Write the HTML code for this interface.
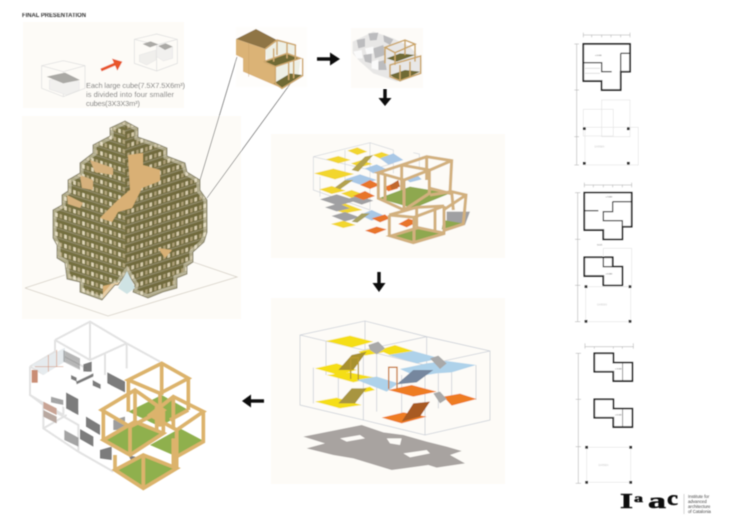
<!DOCTYPE html>
<html><head><meta charset="utf-8"><style>
html,body{margin:0;padding:0;background:#fff}
svg{display:block}
text{font-family:"Liberation Sans",sans-serif}
</style></head><body>
<svg width="730" height="516" viewBox="0 0 730 516" xmlns="http://www.w3.org/2000/svg">
<defs>
<filter id="soft" x="0" y="0" width="100%" height="100%" filterUnits="userSpaceOnUse"><feGaussianBlur stdDeviation="0.4"/></filter>
<pattern id="lL" width="9" height="9.5" patternUnits="userSpaceOnUse" patternTransform="skewY(18)">
<rect width="9" height="9.5" fill="#75703f"/><rect x="1.2" y="4.5" width="2.6" height="4" fill="#dfd6b8"/><rect x="5.6" y="4.5" width="2.4" height="4" fill="#b3a67e"/><rect y="0" width="9" height="1.2" fill="#928b6c"/>
</pattern>
<pattern id="lR" width="9" height="9.5" patternUnits="userSpaceOnUse" patternTransform="skewY(-18)">
<rect width="9" height="9.5" fill="#716b3c"/><rect x="1.2" y="4.5" width="2.4" height="4" fill="#ad9f78"/><rect x="5.4" y="4.5" width="2.6" height="4" fill="#d6cbab"/><rect y="0" width="9" height="1.2" fill="#928b6c"/>
</pattern>
<clipPath id="blob"><polygon points="110,128 125,121 138,128 138,137 155,143 167,148 167,156 185,163 187,172 200,180 200,190 207,200 207,232 204,242 193,252 193,262 187,266 187,274 177,278 177,288 163,292 148,298 133,292 135,285 127,272 118,285 115,285 102,300 80,292 80,282 67,279 65,263 57,258 57,245 53,238 53,210 62,205 62,195 68,191 68,180 80,173 80,163 93,153 93,145 110,136"/></clipPath>
</defs>
<rect width="730" height="516" fill="#fff"/>
<g filter="url(#soft)">

<!-- panels -->
<rect x="23" y="22" width="161" height="86" fill="#fdfbf7"/>
<rect x="22" y="116" width="219" height="203" fill="#fdfbf7"/>
<rect x="236" y="27" width="71" height="60" fill="#fefdfb"/>
<rect x="351" y="28" width="72" height="60" fill="#fdfbf8"/>
<rect x="271" y="134" width="234" height="124" fill="#fdfbf7"/>
<rect x="271" y="298" width="234" height="186" fill="#fdfbf7"/>

<text x="22" y="17" font-size="6" font-weight="bold" fill="#333" textLength="64" lengthAdjust="spacingAndGlyphs">FINAL PRESENTATION</text>

<!-- top-left diagram -->
<g transform="scale(.33333)">
<g fill="none" stroke="#dcdcdc" stroke-width="2">
<polygon points="125,197 190,182 255,197 255,265 190,290 125,265"/><path d="M125,197L190,215L255,197M190,215V290"/>
<polygon points="403,118 470,102 532,118 532,190 470,213 403,190"/><path d="M403,118L470,135L532,118M470,135V213"/>
</g>
<polygon points="148,240 195,232 238,245 238,270 200,285 148,268" fill="#f1f0ee" stroke="#ddd"/>
<polygon points="140,230 170,223 195,218 240,240 200,248 190,250 165,240" fill="#aaa9a5"/>
<polygon points="418,165 468,150 468,180 440,195 418,185" fill="#f0efec" stroke="#ddd"/>
<polygon points="428,132 452,124 475,133 450,142" fill="#aaa9a5"/>
<polygon points="470,140 495,130 518,140 518,175 490,183 470,170" fill="#f1f0ee" stroke="#ddd"/>
<polygon points="475,138 497,130 518,140 495,150" fill="#aaa9a5"/>
<path d="M303,210L345,192" stroke="#e8562a" stroke-width="9" fill="none"/>
<polygon points="336,176 367,185 352,212" fill="#e8562a"/>
</g>
<g font-size="7.4" fill="#777">
<text x="86" y="88" textLength="99">Each large cube(7.5X7.5X6m³)</text>
<text x="86" y="97" textLength="88">is divided into four smaller</text>
<text x="86" y="106" textLength="54">cubes(3X3X3m³)</text>
</g>

<!-- ground of big mass -->
<path d="M25,288L65,275M25,288L108,316L237,277L193,262" fill="none" stroke="#d6d0c6" stroke-width=".8"/>
<!-- leader lines -->
<path d="M237,57L200,180M293,80L207,198" stroke="#555" stroke-width=".6" fill="none"/>

<!-- big lattice mass -->
<g clip-path="url(#blob)">
<rect x="40" y="110" width="90" height="200" fill="url(#lL)"/>
<polygon points="125,110 215,110 215,310 125,310" fill="url(#lR)"/>
<polygon points="128,155 143,153 143,165 160,170 160,181 142,188 132,208 118,212 112,222 100,218 118,200 130,190" fill="#d9b074"/>
<polygon points="90,160 113,168 113,175 95,172" fill="#d6b17c"/>
<polygon points="80,175 93,180 93,190 82,188" fill="#d6b17c"/>
<polygon points="67,195 83,203 80,208 68,204" fill="#d6b17c"/>
<polygon points="158,248 172,250 165,258" fill="#d9b074"/>
<polygon points="103,286 120,282 120,298 103,298" fill="#d9b074"/>
<polygon points="118,285 127,272 135,285 132,292 127,295" fill="#c7dfe0"/>
<polygon points="110,128 125,121 138,128 138,137 155,143 167,148 167,156 185,163 187,172 200,180 200,190 207,200 207,232 204,242 193,252 193,262 187,266 187,274 177,278 177,288 163,292 148,298 133,292 135,285 127,272 118,285 115,285 102,300 80,292 80,282 67,279 65,263 57,258 57,245 53,238 53,210 62,205 62,195 68,191 68,180 80,173 80,163 93,153 93,145 110,136" fill="none" stroke="#f7f1e2" stroke-width="7" opacity=".45"/>
</g>
<polygon points="110,128 125,121 138,128 138,137 155,143 167,148 167,156 185,163 187,172 200,180 200,190 207,200 207,232 204,242 193,252 193,262 187,266 187,274 177,278 177,288 163,292 148,298 133,292 135,285 127,272 118,285 115,285 102,300 80,292 80,282 67,279 65,263 57,258 57,245 53,238 53,210 62,205 62,195 68,191 68,180 80,173 80,163 93,153 93,145 110,136" fill="none" stroke="#7f7a5e" stroke-width=".9"/>
<polygon points="118,288 127,271 135,288 127,294" fill="#cfe3e4"/>

<!-- top cube solid + frames -->
<g transform="translate(232 25) scale(.33333)">
<polygon points="12,42 72,12 135,45 195,62 130,55 100,72" fill="#8f7545"/>
<polygon points="12,42 100,72 100,110 130,122 150,190 33,140 33,100 12,90" fill="#dbb376"/>
<path d="M50,55V155M100,72V110" stroke="#c7a268" stroke-width="1.5"/>
<polygon points="100,72 135,48 190,60 190,105 130,110 105,105" fill="#eef0e6"/>
<polygon points="130,125 170,115 205,105 200,150 150,175 130,175" fill="#eef0e6"/>
<polygon points="95,110 165,85 205,100 130,125" fill="#6f6b36"/>
<polygon points="125,175 175,145 210,150 150,190" fill="#6f6b36"/>
<g fill="none" stroke="#cfa96e" stroke-width="4.5">
<path d="M100,72L135,45L190,60V105M135,45V90M165,52V100M125,70V110"/>
<path d="M95,110L165,85L205,100L130,125L95,110"/>
<path d="M130,125V175L150,190L212,152V100M170,112V165M185,108V160"/>
</g>
</g>

<!-- second cube -->
<g transform="translate(230 20) scale(.33333)">
<polygon points="368,65 430,35 490,55 540,80 575,120 575,160 500,185 430,160 390,125 368,100" fill="#e8e7e6"/>
<g fill="#bcbcbe">
<polygon points="380,60 405,55 405,80 385,85"/><polygon points="415,40 445,38 440,60 420,62"/><polygon points="430,85 460,75 465,105 435,115"/><polygon points="400,105 425,100 425,130 405,125"/><polygon points="460,45 490,58 480,75 462,65"/><polygon points="445,125 465,120 470,150 445,150"/>
</g>
<g fill="#fafafa">
<polygon points="370,95 395,90 398,115 380,115"/><polygon points="405,85 430,80 430,100 410,103"/><polygon points="425,125 445,118 445,150 425,145"/>
</g>
<polygon points="470,115 510,100 555,105 500,125" fill="#6f6b36"/>
<polygon points="480,165 525,150 570,155 510,185" fill="#6f6b36"/>
<g fill="none" stroke="#cba668" stroke-width="4.5">
<polygon points="465,82 525,60 555,72 495,98"/><path d="M465,82V130M555,72V125M495,98V135M525,60V105"/>
<polygon points="480,135 572,108 572,160 510,182 480,170"/><path d="M510,135V182M540,125V170"/>
</g>
</g>

<!-- arrows -->
<path d="M317,59H331" stroke="#111" stroke-width="3.4"/><polygon points="330,52.5 340,59 330,65.5" fill="#111"/>
<path d="M385,89V99" stroke="#111" stroke-width="3.4"/><polygon points="378.5,98 391.5,98 385,106" fill="#111"/>
<path d="M379,272V284" stroke="#111" stroke-width="3.4"/><polygon points="372.5,283 385.5,283 379,292" fill="#111"/>
<path d="M250,401H264" stroke="#111" stroke-width="3.4"/><polygon points="251,394.5 251,407.5 242,401" fill="#111"/>

<!-- panel 3 -->
<g transform="translate(270 130) scale(.33333)">
<path d="M130,80L300,38L370,60V130M130,80V180L300,240M130,80L300,120L370,100M300,38V120M300,120V240M150,140V200M430,68L448,72V120M225,60V150" fill="none" stroke="#d0d4da" stroke-width="2"/>
<g fill="#f2d62e">
<polygon points="232,62 262,52 292,65 262,75"/><polygon points="168,88 205,78 242,90 205,100"/><polygon points="243,100 275,90 307,102 270,112"/><polygon points="308,75 335,66 367,78 335,88"/>
<polygon points="132,130 190,116 252,132 195,148"/><polygon points="148,178 185,168 227,182 185,192"/><polygon points="213,190 245,180 287,195 245,204"/><polygon points="178,235 225,220 277,240 225,250"/><polygon points="183,282 220,272 257,285 220,294"/>
</g>
<g fill="#a0a0a2">
<polygon points="150,208 200,193 260,212 205,227"/><polygon points="165,232 205,220 240,235 200,244"/><polygon points="185,258 225,246 270,262 225,274"/><polygon points="230,208 265,196 310,212 275,224"/>
<polygon points="530,245 600,245 585,285 530,275"/>
</g>
<g fill="#a9c8e6">
<polygon points="330,85 370,70 400,90 355,104"/><polygon points="225,148 270,133 320,150 270,164"/><polygon points="285,115 320,103 350,118 310,130"/><polygon points="270,255 305,240 345,258 305,272"/><polygon points="405,145 440,133 455,148 420,157"/>
</g>
<g fill="#e8742a">
<polygon points="270,165 300,150 330,165 300,177"/><polygon points="250,198 285,183 315,198 280,210"/><polygon points="340,172 370,160 385,175 355,184"/><polygon points="305,265 345,253 360,265 330,277"/><polygon points="285,302 320,290 350,298 315,312"/><polygon points="385,282 415,266 445,275 410,292"/>
</g>
<polygon points="245,120 285,80 310,75 265,125" fill="#b3a24e"/>
<polygon points="195,172 225,150 250,150 210,178" fill="#b3a24e"/>
<polygon points="245,275 275,250 300,250 262,278" fill="#a7a060"/>
<polygon points="360,165 385,150 390,170 365,180" fill="#c1682f"/>
<polygon points="325,205 420,170 540,190 430,235" fill="#8ea84f"/>
<polygon points="365,318 445,293 520,310 430,335" fill="#8ea84f"/>
<polygon points="515,298 580,280 520,270" fill="#8ea84f"/>
<g fill="none" stroke="#d2b07e" stroke-width="9">
<path d="M395,105L470,80L545,92L540,190L480,175M470,80V150M480,120L545,92"/>
<polygon points="325,128 395,105 478,120 402,150"/>
<path d="M325,128V205L402,240L478,190V120M402,150V240M395,105V180M345,135V210"/>
<path d="M480,195L545,185L588,195L580,282L520,302M520,240L588,195M550,240L545,185"/>
<polygon points="358,255 440,232 522,228 432,262"/>
<polygon points="362,318 444,293 525,310 430,338"/>
<path d="M358,255V318M432,262V338M522,228V310M440,232V290M495,240V305"/>
</g>
</g>

<!-- panel 4 -->
<g transform="translate(270 295) scale(.33333)">
<polygon points="100,425 200,405 275,390 340,412 400,420 470,440 530,455 575,468 540,480 585,505 500,518 475,510 365,525 250,490 190,480 110,460 165,445" fill="#a8a3a0"/>
<polygon points="210,430 270,420 285,430 230,440" fill="#fdfbf7"/>
<polygon points="350,430 395,430 390,450 360,445" fill="#fdfbf7"/>
<polygon points="400,475 470,465 480,475 420,487" fill="#fdfbf7"/>
<g fill="none" stroke="#cdd1d8" stroke-width="2.5">
<path d="M90,120L285,78L470,125L660,168V375L465,420L280,375L90,330Z"/>
<path d="M90,120L280,165L470,125M280,165V375M280,165L465,210L660,168M465,210V420M285,78V165M470,125V210"/>
<path d="M130,218V325M168,138V240M205,240V340M320,160V350M395,240V370M545,232V330M618,210V315M505,235V340"/>
</g>
<g fill="#f5de18">
<polygon points="168,138 240,122 310,140 245,158"/><polygon points="325,165 375,150 430,168 370,185"/><polygon points="135,220 200,205 260,225 205,240"/><polygon points="170,240 240,232 315,248 250,262"/><polygon points="135,320 200,308 275,330 210,340"/><polygon points="270,283 300,275 315,285 285,292"/><polygon points="265,170 320,158 340,172 285,182"/>
</g>
<g fill="#aed2ea">
<polygon points="355,180 430,168 510,190 440,205"/><polygon points="260,255 320,245 385,265 350,290"/><polygon points="390,222 470,205 530,198 618,210 545,232 500,235 440,245"/>
</g>
<g fill="#ee7c24">
<polygon points="355,285 425,270 500,290 430,305"/><polygon points="520,305 570,296 620,312 545,332"/><polygon points="335,368 400,352 470,365 395,385"/>
</g>
<polygon points="205,225 245,180 290,170 250,225" fill="#a8912f"/>
<polygon points="205,325 245,280 290,280 255,325" fill="#a8953f"/>
<polygon points="380,268 430,225 490,225 440,262" fill="#76879e"/>
<polygon points="395,380 430,325 480,320 450,365" fill="#a85a20"/>
<polygon points="295,150 325,140 345,160 320,178 300,165" fill="#a9a9a9"/>
<polygon points="480,190 505,182 530,205 510,222" fill="#a9a9a9"/>
<polygon points="490,295 510,290 530,312 510,325" fill="#a9a9a9"/>
<path d="M242,252V188H265V255" fill="none" stroke="#b89a30" stroke-width="4"/>
<path d="M356,282V217H381V282" fill="none" stroke="#c87a30" stroke-width="4"/>
</g>

<!-- bottom-left building -->
<g transform="translate(10 315) scale(.33333)">
<g fill="none" stroke="#e2e2e2" stroke-width="6">
<path d="M135,75L240,20L350,85L450,140M135,75V130M135,75L240,135L350,85M240,20V135M350,85V160M285,115V180"/>
<path d="M60,155L135,110L230,160M60,155V240L100,270V340L205,410L310,470M60,155L160,210V300M100,270L205,330V410M60,240L160,300"/>
<path d="M100,340L170,300"/>
</g>
<polygon points="100,180 170,142 300,210 250,275 180,290 100,230" fill="#fff"/>
<polygon points="65,150 165,98 165,140 100,180" fill="#e6ebee"/>
<path d="M115,120V170M140,105V155M75,155H160" stroke="#d69a7e" stroke-width="2"/>
<rect x="65" y="165" width="18" height="38" fill="#c98d74"/>
<g fill="#666" opacity=".85">
<polygon points="160,105 210,130 210,165 160,140" opacity=".55"/>
<polygon points="220,148 245,140 245,170 220,170"/>
<polygon points="198,200 250,175 250,185 200,208"/>
<polygon points="183,180 200,188 200,200 183,192"/>
<polygon points="248,195 272,208 272,222 248,212"/>
<polygon points="292,172 345,200 345,232 292,205"/>
<polygon points="168,232 205,252 205,300 168,280"/>
<polygon points="123,245 160,255 160,270 123,262" opacity=".7"/>
<polygon points="228,305 270,330 270,360 228,335"/>
<polygon points="310,315 345,305 345,345 310,345" opacity=".75"/>
<polygon points="163,345 205,368 205,395 163,375" opacity=".7"/>
<polygon points="210,342 250,365 250,395 210,372"/>
<polygon points="270,405 305,395 305,435 270,430"/>
<polygon points="355,420 385,428 365,440"/>
</g>
<polygon points="100,260 140,280 140,300 100,280" fill="#c9a495"/>
<polygon points="100,285 140,305 140,325 100,305" fill="#b8a8a0"/>
<!-- wood cubes -->
<polygon points="355,290 455,240 535,285 450,335" fill="#8fb04e"/>
<polygon points="420,390 510,340 585,380 500,425" fill="#8fb04e"/>
<g fill="none" stroke="#dcb36c" stroke-width="11">
<polygon points="355,195 455,145 535,190 450,235"/>
<path d="M355,195V290M455,145V240M535,190V285M450,235V335M535,285L480,315"/>
<polygon points="420,300 490,245 580,290 500,345"/>
<path d="M580,290V380L500,425M490,245V340M500,345V425"/>
</g>
<polygon points="315,465 400,420 500,460 400,520" fill="#8fb04e"/>
<polygon points="280,375 375,320 460,355 360,420" fill="#8fb04e"/>
<g fill="none" stroke="#dcb36c" stroke-width="11">
<polygon points="315,465 400,420 500,460 400,520"/>
<path d="M315,420V465M500,370V460M400,420V520M490,370V455"/>
<polygon points="275,285 375,225 460,285 360,335"/>
<polygon points="280,375 375,320 460,355 360,420"/>
<path d="M280,285V375M460,285V355M360,335V420M375,225V320M440,275V345"/>
</g>
</g>

<!-- plan 1 -->
<g transform="translate(565 30) scale(.33333)">
<g fill="none" stroke="#ddd" stroke-width="1.5">
<rect x="60" y="292" width="160" height="113"/><rect x="110" y="210" width="85" height="110"/><rect x="55" y="238" width="90" height="80"/>
</g>
<path d="M55,15H195M55,8V22M195,8V22M80,15V22M110,15V22M138,15V22M167,15V22M35,42V405M28,42H42M28,180H42M28,320H42M28,405H42" fill="none" stroke="#aaa" stroke-width="1.5"/>
<polygon points="55,42 195,42 195,125 167,125 167,180 110,180 110,153 55,153" fill="#fff" stroke="#222" stroke-width="5"/>
<path d="M55,98H110V125H140M167,70H195M167,70V125" fill="none" stroke="#222" stroke-width="3.5"/>
<path d="M60,115H105M60,130H105" stroke="#ccc" stroke-width="2"/>
<text x="90" y="78" font-size="6" fill="#444">± 0.000</text>
<rect x="54" y="292" width="8" height="8" fill="#333"/><rect x="186" y="292" width="8" height="8" fill="#333"/><rect x="54" y="396" width="8" height="8" fill="#333"/><rect x="186" y="396" width="8" height="8" fill="#333"/>
<text x="88" y="352" font-size="7" fill="#ccc">GARDEN</text>
</g>
<!-- plan 2 -->
<g transform="translate(565 180) scale(.33333)">
<g fill="none" stroke="#ddd" stroke-width="1.5">
<rect x="62" y="320" width="135" height="105"/><rect x="115" y="205" width="85" height="115"/>
</g>
<path d="M58,15H200M58,8V22M200,8V22M85,15V22M115,15V22M143,15V22M172,15V22M38,38V425M30,38H46M30,178H46M30,316H46M30,425H46" fill="none" stroke="#aaa" stroke-width="1.5"/>
<polygon points="58,38 200,38 200,140 172,140 172,178 115,178 115,150 58,150" fill="#fff" stroke="#222" stroke-width="5"/>
<path d="M143,65H200M143,65V95H115V122H172V140M58,92H100" fill="none" stroke="#222" stroke-width="3.5"/>
<text x="122" y="52" font-size="6" fill="#444">± 3.000</text>
<text x="96" y="196" font-size="5" fill="#555">3.0-3.6</text>
<polygon points="115,232 143,232 143,260 172,260 172,316 115,316 115,288 58,288 58,232" fill="#fff" stroke="#222" stroke-width="5"/>
<path d="M115,232V260H143" fill="none" stroke="#222" stroke-width="3.5"/>
<text x="122" y="284" font-size="6" fill="#444">± 6.000</text>
<rect x="59" y="316" width="8" height="8" fill="#333"/><rect x="191" y="316" width="8" height="8" fill="#333"/><rect x="59" y="420" width="8" height="8" fill="#333"/><rect x="191" y="420" width="8" height="8" fill="#333"/>
<text x="96" y="376" font-size="7" fill="#ccc">GARDEN</text>
</g>
<!-- plan 3 -->
<g transform="translate(565 340) scale(.33333)">
<rect x="65" y="322" width="132" height="105" fill="none" stroke="#ddd" stroke-width="1.5"/>
<path d="M60,20H205M60,10V26M205,10V26M88,20V26M145,20V26M172,20V26M40,40V430M32,40H48M32,178H48M32,320H48M32,430H48" fill="none" stroke="#aaa" stroke-width="1.5"/>
<polygon points="88,40 145,40 145,68 202,68 202,123 145,123 145,95 88,95" fill="#fff" stroke="#222" stroke-width="5"/>
<path d="M173,68V123" stroke="#333" stroke-width="2"/>
<text x="150" y="89" font-size="6" fill="#444">± 3.000</text>
<g transform="translate(0 138)">
<polygon points="88,40 145,40 145,68 202,68 202,123 145,123 145,95 88,95" fill="#fff" stroke="#222" stroke-width="5"/>
<path d="M173,68V123" stroke="#333" stroke-width="2"/>
<text x="150" y="89" font-size="6" fill="#444">± 6.000</text>
</g>
<rect x="61" y="318" width="8" height="8" fill="#333"/><rect x="193" y="318" width="8" height="8" fill="#333"/><rect x="61" y="423" width="8" height="8" fill="#333"/><rect x="193" y="423" width="8" height="8" fill="#333"/>
<text x="100" y="378" font-size="7" fill="#ccc">GARDEN</text>
</g>

<!-- logo -->
<g fill="#111" stroke="#111" stroke-width=".5">
<text x="620" y="508" font-size="21" font-weight="bold" textLength="13" lengthAdjust="spacingAndGlyphs" style="font-family:'Liberation Serif',serif">I</text>
<text x="634" y="502" font-size="12" font-weight="bold" textLength="9" lengthAdjust="spacingAndGlyphs" style="font-family:'Liberation Serif',serif">a</text>
<text x="648" y="508" font-size="22" font-weight="bold" textLength="18" lengthAdjust="spacingAndGlyphs" style="font-family:'Liberation Serif',serif">a</text>
<text x="667" y="505" font-size="21" font-weight="bold" textLength="11" lengthAdjust="spacingAndGlyphs" style="font-family:'Liberation Serif',serif">c</text>
</g>
<path d="M684,494V514" stroke="#aaa" stroke-width=".5"/>
<g font-size="4.3" fill="#444">
<text x="688" y="498">Institute for</text>
<text x="688" y="503">advanced</text>
<text x="688" y="508">architecture</text>
<text x="688" y="513">of Catalonia</text>
</g>
</g>
</svg>
</body></html>
